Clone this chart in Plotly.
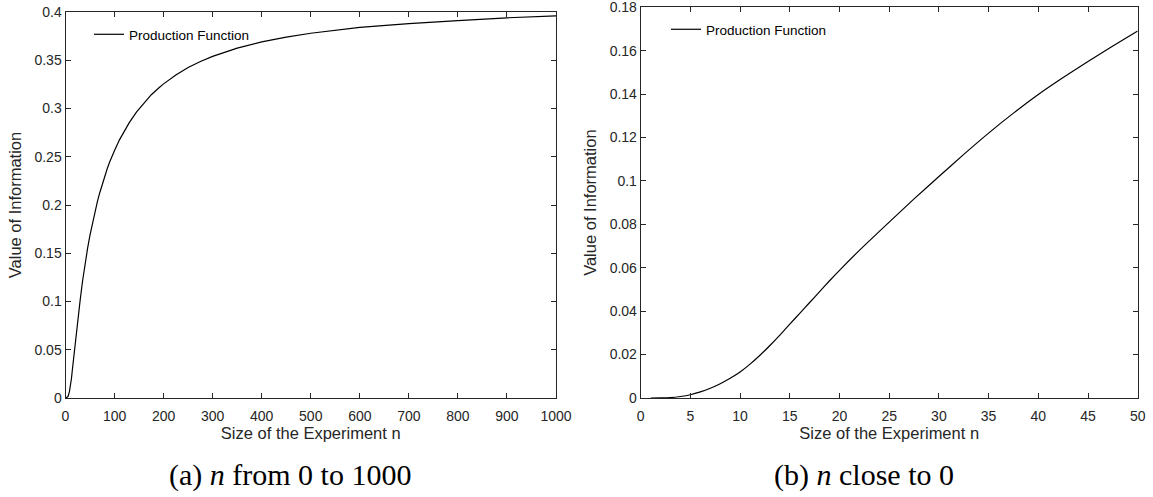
import plotly.graph_objects as go

# ---- data ----
n_a = [1, 5, 8, 10, 12, 15, 20, 25, 30, 35, 40, 45, 50, 55, 60, 65, 70, 75, 80, 85, 90, 95,
       100, 110, 120, 130, 145, 160, 175, 190, 200, 225, 250, 275, 300, 350, 400, 450, 500,
       600, 700, 800, 900, 1000]
v_a = [0.0, 0.0015, 0.0066, 0.012, 0.0197, 0.034, 0.0588, 0.081, 0.102, 0.122, 0.140,
       0.155, 0.169, 0.1815, 0.193, 0.2035, 0.213, 0.2218, 0.230, 0.2375, 0.2445, 0.2508,
       0.2565, 0.2675, 0.277, 0.2853, 0.2965, 0.306, 0.3143, 0.3213, 0.3255, 0.3348, 0.3425,
       0.3487, 0.354, 0.3625, 0.369, 0.374, 0.378, 0.384, 0.388, 0.391, 0.394, 0.396]

n_b = [1, 2, 3, 4, 5, 6, 7, 8, 9, 10, 11, 12, 13, 14, 15, 16, 17, 18, 19, 20, 22, 25,
       27.5, 30, 32.5, 35, 37.5, 40, 42.5, 45, 47.5, 50]
v_b = [0.0, 0.00003, 0.0002, 0.0007, 0.0015, 0.0028, 0.0045, 0.0066, 0.0091, 0.012,
       0.0156, 0.0197, 0.0242, 0.029, 0.034, 0.039, 0.044, 0.049, 0.054, 0.0588, 0.068,
       0.081, 0.0917, 0.102, 0.1122, 0.122, 0.1312, 0.1398, 0.1476, 0.155, 0.1621, 0.169]

xticks_a = list(range(0, 1001, 100))
yticks_a = [0, 0.05, 0.1, 0.15, 0.2, 0.25, 0.3, 0.35, 0.4]
yticklabels_a = ["0", "0.05", "0.1", "0.15", "0.2", "0.25", "0.3", "0.35", "0.4"]
xticks_b = list(range(0, 51, 5))
yticks_b = [0, 0.02, 0.04, 0.06, 0.08, 0.1, 0.12, 0.14, 0.16, 0.18]
yticklabels_b = ["0", "0.02", "0.04", "0.06", "0.08", "0.1", "0.12", "0.14", "0.16", "0.18"]

series_name = "Production Function"
xlabel = "Size of the Experiment n"
ylabel = "Value of Information"
caption_a = "(a) <i>n</i> from 0 to 1000"
caption_b = "(b) <i>n</i> close to 0"

W, H = 1153, 497
AX = "#262626"
FONT = "Liberation Sans, Arial, sans-serif"
SERIF = "Liberation Serif, serif"

fig = go.Figure()
fig.add_trace(go.Scatter(x=n_a, y=v_a, mode="lines", name=series_name, showlegend=True,
                         line=dict(color="black", width=1.2, shape="linear"),
                         xaxis="x", yaxis="y", legend="legend"))
fig.add_trace(go.Scatter(x=n_b, y=v_b, mode="lines", name=series_name, showlegend=True,
                         line=dict(color="black", width=1.2, shape="spline", smoothing=0.6),
                         xaxis="x2", yaxis="y2", legend="legend2"))


def px_x(p):
    return p / W


def px_y(p):
    return 1 - p / H


common = dict(showline=True, linecolor=AX, linewidth=1, mirror="ticks", ticks="inside",
              ticklen=5, tickcolor=AX, tickwidth=1, showgrid=False, zeroline=False,
              automargin=False, ticklabeloverflow="allow",
              tickfont=dict(family=FONT, size=14, color=AX),
              title_font=dict(family=FONT, size=16.5, color=AX))

fig.update_layout(
    width=W, height=H, margin=dict(l=0, r=0, t=0, b=0, autoexpand=False),
    paper_bgcolor="white", plot_bgcolor="white", showlegend=True,
    xaxis=dict(domain=[px_x(65.5), px_x(556)], range=[0, 1000], tickvals=xticks_a,
               ticklabelstandoff=5, title=dict(text=xlabel, standoff=4), anchor="y", **common),
    yaxis=dict(domain=[px_y(398), px_y(12)], range=[0, 0.4], tickvals=yticks_a,
               ticktext=yticklabels_a, title=dict(text=ylabel, standoff=8), anchor="x", **common),
    xaxis2=dict(domain=[px_x(640.7), px_x(1137.7)], range=[0, 50], tickvals=xticks_b,
                ticklabelstandoff=5, title=dict(text=xlabel, standoff=4), anchor="y2", **common),
    yaxis2=dict(domain=[px_y(398), px_y(7.2)], range=[0, 0.18], tickvals=yticks_b,
                ticktext=yticklabels_b, title=dict(text=ylabel, standoff=8), anchor="x2", **common),
    legend=dict(x=px_x(89), y=px_y(19), xanchor="left", yanchor="top", bgcolor="rgba(0,0,0,0)",
                font=dict(family=FONT, size=13.5, color="black"), borderwidth=0, tracegroupgap=0),
    legend2=dict(x=px_x(666), y=px_y(14), xanchor="left", yanchor="top", bgcolor="rgba(0,0,0,0)",
                 font=dict(family=FONT, size=13.5, color="black"), borderwidth=0, tracegroupgap=0),
    annotations=[
        dict(text=caption_a, x=px_x(289.5), y=px_y(475), xref="paper", yref="paper",
             showarrow=False, xanchor="center", yanchor="middle",
             font=dict(family=SERIF, size=30, color="black")),
        dict(text=caption_b, x=px_x(864.5), y=px_y(475), xref="paper", yref="paper",
             showarrow=False, xanchor="center", yanchor="middle",
             font=dict(family=SERIF, size=30, color="black")),
    ],
)

fig.write_html("out.html", config={"displayModeBar": False},
               post_script="document.body.style.margin='0px';")
